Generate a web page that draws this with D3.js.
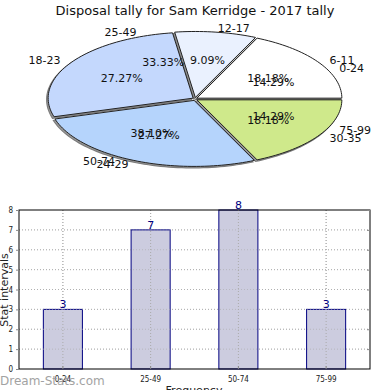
<!DOCTYPE html>
<html><head><meta charset="utf-8">
<script src="https://cdn.jsdelivr.net/npm/d3@7"></script>
<style>body{margin:0;background:#fff}svg{display:block;font-family:"DejaVu Sans",sans-serif}</style>
</head><body>
<svg id="c" width="390" height="390"></svg>
<script>
const title = "Disposal tally for Sam Kerridge - 2017 tally";
const pieACats = ["0-24","25-49","50-74","75-99"];
const pieAVals = [3,7,8,3];
const pieBCats = ["6-11","12-17","18-23","24-29","30-35"];
const pieBVals = [2,1,3,3,2];
const pieBColors = ["#ffffff","#eaf1fe","#c4d8fd","#b5d4fc","#cfe98b"];
const barCats = ["0-24","25-49","50-74","75-99"];
const barVals = [3,7,8,3];
const yTicks = [0,1,2,3,4,5,6,7,8];

const svg = d3.select("#c");
svg.append("text").attr("x",195).attr("y",15).attr("text-anchor","middle")
  .attr("font-size",13).attr("fill","#111").text(title);

// Pie (elliptical)
const cx=195, cy=99, rx=145, ry=66;
const pie = d3.pie().sort(null).value(d=>d).startAngle(0).endAngle(2*Math.PI);
const pt = (a, fx, fy) => [cx + fx*Math.cos(a), cy - fy*Math.sin(a)];
function slicePath(a0,a1,dx,dy){
  const n=Math.max(4,Math.ceil((a1-a0)/0.03));
  const pts=[[cx+dx,cy+dy]];
  for(let i=0;i<=n;i++){const a=a0+(a1-a0)*i/n;const p=pt(a,rx,ry);pts.push([p[0]+dx,p[1]+dy]);}
  return d3.line()(pts)+"Z";
}
const arcsA = pie(pieAVals);
const arcsB = pie(pieBVals);
const explode=2.2;
const g=svg.append("g");
// shadow
arcsB.forEach(d=>{
  const m=(d.startAngle+d.endAngle)/2;
  const ex=explode*Math.cos(m), ey=-explode*Math.sin(m)*0.7;
  g.append("path").attr("d",slicePath(d.startAngle,d.endAngle,ex-1.5,ey+1.5))
   .attr("fill","#888").attr("stroke","#666").attr("stroke-width",1.2).attr("opacity",0.85);
});
arcsB.forEach((d,i)=>{
  const m=(d.startAngle+d.endAngle)/2;
  const ex=explode*Math.cos(m), ey=-explode*Math.sin(m)*0.7;
  g.append("path").attr("d",slicePath(d.startAngle,d.endAngle,ex,ey))
   .attr("fill",pieBColors[i]).attr("stroke","#222").attr("stroke-width",1);
});
function labels(arcs,cats,vals){
  const tot=d3.sum(vals);
  arcs.forEach((d,i)=>{
    const m=(d.startAngle+d.endAngle)/2;
    const p=pt(m,160,72);
    const right=Math.cos(m)>=0;
    svg.append("text").attr("x",p[0]).attr("y",p[1]+4)
      .attr("text-anchor",right?"start":"end").attr("font-size",11).attr("fill","#111").text(cats[i]);
    const q=pt(m,0.6*rx,0.6*ry);
    svg.append("text").attr("x",q[0]).attr("y",q[1]+4).attr("text-anchor","middle")
      .attr("font-size",11).attr("fill","#111").text((vals[i]/tot*100).toFixed(2)+"%");
  });
}
labels(arcsA,pieACats,pieAVals);
labels(arcsB,pieBCats,pieBVals);

// Bar chart
const L=19,R=370,T=210,B=369;
const x=d3.scaleBand().domain(barCats).range([L,R]).paddingInner(0.555).paddingOuter(0.2775);
const y=d3.scaleLinear().domain([0,8]).range([B,T]);
const bg=svg.append("g");
bg.selectAll(".gy").data(yTicks.slice(1,-1)).enter().append("line")
  .attr("x1",L).attr("x2",R).attr("y1",d=>y(d)).attr("y2",d=>y(d))
  .attr("stroke","#bbb").attr("stroke-dasharray","1,2");
bg.selectAll(".gx").data(barCats).enter().append("line")
  .attr("x1",d=>x(d)+x.bandwidth()/2).attr("x2",d=>x(d)+x.bandwidth()/2).attr("y1",T).attr("y2",B)
  .attr("stroke","#bbb").attr("stroke-dasharray","1,2");
bg.selectAll(".bar").data(barVals).enter().append("rect")
  .attr("x",(d,i)=>x(barCats[i])).attr("width",x.bandwidth())
  .attr("y",d=>y(d)).attr("height",d=>B-y(d))
  .attr("fill","#ccccdf").attr("stroke","#000080").attr("stroke-width",1);
bg.selectAll(".gx2").data(barCats).enter().append("line")
  .attr("x1",d=>x(d)+x.bandwidth()/2).attr("x2",d=>x(d)+x.bandwidth()/2).attr("y1",T).attr("y2",B)
  .attr("stroke","#aaa").attr("stroke-dasharray","1,2");
bg.selectAll(".gy2").data(yTicks.slice(1,-1)).enter().append("line")
  .attr("x1",L).attr("x2",R).attr("y1",d=>y(d)).attr("y2",d=>y(d))
  .attr("stroke","#aaa").attr("stroke-dasharray","1,2").attr("opacity",0.6);
bg.selectAll(".vl").data(barVals).enter().append("text")
  .attr("x",(d,i)=>x(barCats[i])+x.bandwidth()/2).attr("y",d=>y(d)-1)
  .attr("text-anchor","middle").attr("font-size",11).attr("fill","#000080").text(d=>d);
bg.append("rect").attr("x",L).attr("y",T).attr("width",R-L).attr("height",B-T)
  .attr("fill","none").attr("stroke","#000").attr("stroke-width",1);
const ya=d3.axisLeft(y).tickValues(yTicks).tickSize(3).tickFormat(d3.format("d"));
const yg=bg.append("g").attr("transform",`translate(${L},0)`).call(ya);
yg.select(".domain").remove();
yg.selectAll("text").attr("font-size",8).attr("fill","#222").attr("font-family","'DejaVu Sans Condensed','DejaVu Sans',sans-serif");
yg.selectAll("line").attr("stroke","#888");
const yr=d3.axisLeft(y).tickValues(yTicks).tickSize(3).tickFormat("");
const yrg=bg.append("g").attr("transform",`translate(${R},0)`).call(yr);
yrg.select(".domain").remove(); yrg.selectAll("line").attr("stroke","#888");
const xa=d3.axisBottom(x).tickSize(3);
const xg=bg.append("g").attr("transform",`translate(0,${B})`).call(xa);
xg.select(".domain").remove();
xg.selectAll("line").attr("stroke","#888").attr("transform","translate(0,-3)");
xg.selectAll("text").attr("font-size",8).attr("fill","#222").attr("font-family","'DejaVu Sans Condensed','DejaVu Sans',sans-serif").attr("dy","0.9em");
svg.append("text").attr("transform","translate(8,290) rotate(-90)").attr("text-anchor","middle")
  .attr("font-size",11).attr("fill","#222").text("Stat intervals");
svg.append("text").attr("x",194).attr("y",394).attr("text-anchor","middle")
  .attr("font-size",11).attr("fill","#222").text("Frequency");
svg.append("text").attr("x",0).attr("y",385).attr("font-size",12)
  .attr("fill","#999").attr("opacity",0.9).text("Dream-Stats.com");
</script>
</body></html>
